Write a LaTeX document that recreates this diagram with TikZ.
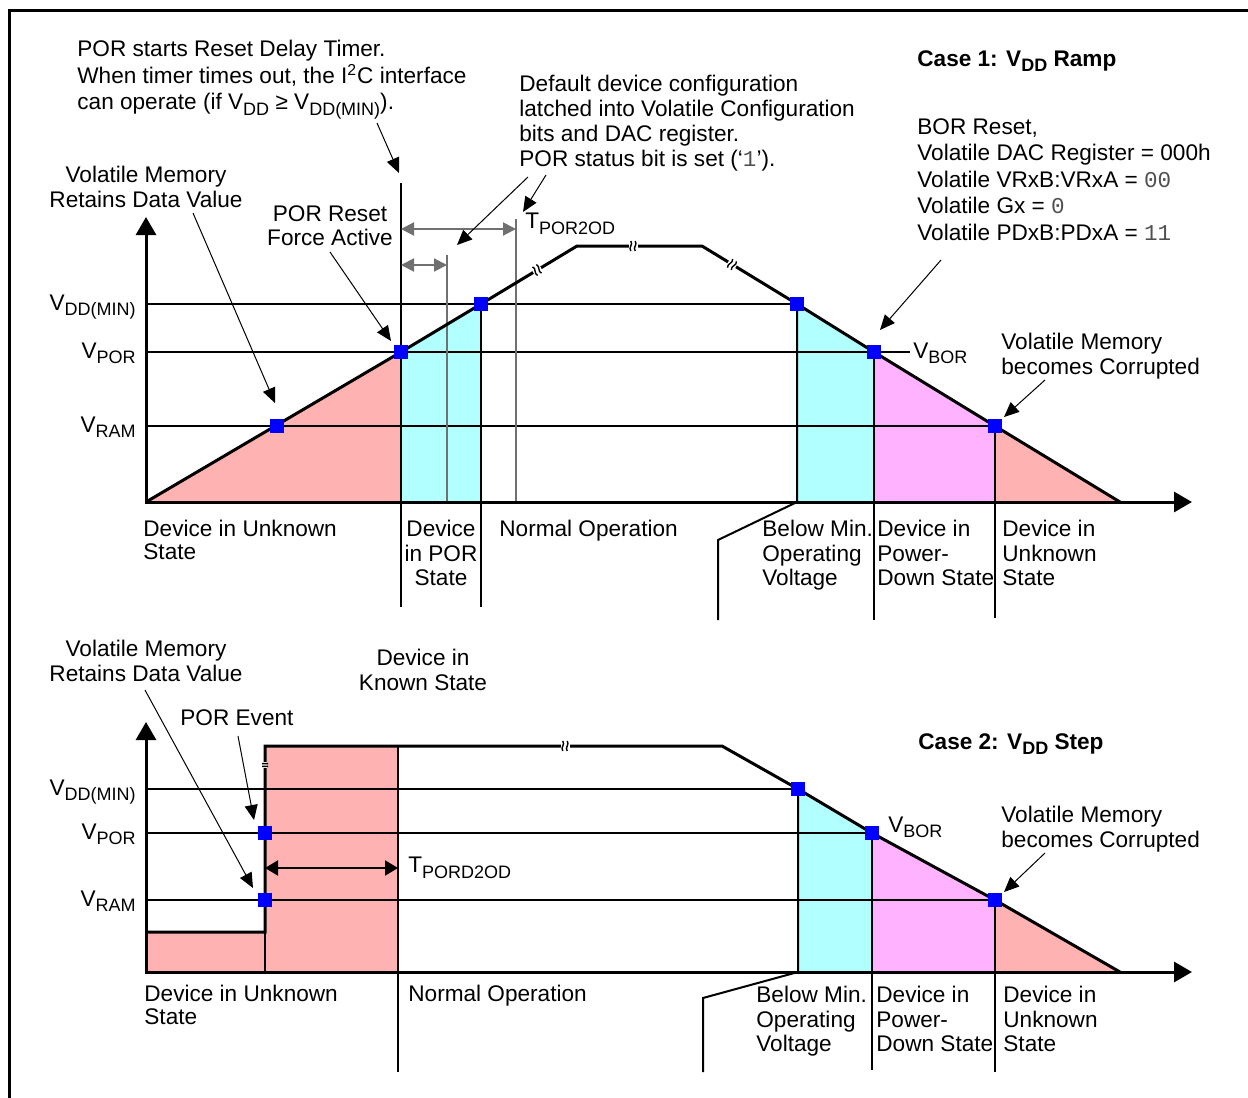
\documentclass[tikz,border=0pt]{standalone}
\usepackage{fontspec}
\setmainfont{Liberation Sans}
\setmonofont{Liberation Mono}
\usetikzlibrary{arrows.meta}
\definecolor{unkred}{RGB}{255,178,178}
\definecolor{porcyan}{RGB}{178,255,255}
\definecolor{pdmag}{RGB}{255,178,255}
\definecolor{mkblue}{RGB}{0,0,255}
\definecolor{dimgrey}{RGB}{112,112,112}
\definecolor{monogrey}{RGB}{80,80,80}
\newcommand{\lsub}[1]{\raisebox{-0.45ex}{\fontsize{9}{9}\selectfont #1}}
\newcommand{\mono}[1]{{\ttfamily\color{monogrey}#1}}
\tikzset{
  txt/.style={inner sep=0pt,font=\fontsize{11.3}{12.2}\selectfont},
  note/.style={txt,align=left,anchor=north west},
  cnote/.style={txt,align=center,anchor=north},
  vlab/.style={txt,anchor=base east},
  axisarrow/.style={line width=1.5pt,line join=miter,
    {Triangle[length=9pt,width=10pt]}-{Triangle[length=9pt,width=10pt]}},
  vlevel/.style={line width=1pt},
  ramp/.style={line width=1.5pt,line join=miter},
  divider/.style={line width=1pt},
  guide/.style={dimgrey,line width=1pt},
  span/.style={dimgrey,line width=1pt,
    {Triangle[length=6.5pt,width=6.5pt]}-{Triangle[length=6.5pt,width=6.5pt]}},
  tspan/.style={line width=1pt,
    {Triangle[length=6.5pt,width=7.5pt]}-{Triangle[length=6.5pt,width=7.5pt]}},
  callarrow/.style={line width=0.5pt,-{Triangle[length=7.5pt,width=6.5pt]}},
  bluesq/.style={fill=mkblue,draw=none,minimum size=7pt,inner sep=0pt,outer sep=0pt},
  brk/.pic={
    \fill[white] (-4.5,-4) rectangle (4.5,4);
    \draw[line width=0.7pt] (-2.2,-5) .. controls (0.5,-1.5) and (-4.9,1.5) .. (-2.2,5);
    \draw[line width=0.7pt] (2.2,-5) .. controls (4.9,-1.5) and (-0.5,1.5) .. (2.2,5);
  }
}
\begin{document}
\begin{tikzpicture}[x=0.5pt,y=-0.5pt]
\useasboundingbox (0,0) rectangle (1248,1098);
\draw[line width=1.5pt] (9,1098) -- (9,10) -- (1248,10);

% Case 1
\coordinate (o1) at (146,502);
\coordinate (por1) at (401,352);
\coordinate (min1) at (481,304);
\coordinate (topl1) at (577,246);
\coordinate (topr1) at (702,246);
\coordinate (minr1) at (797,304);
\coordinate (bor1) at (874,352);
\coordinate (ramr1) at (995,426);
\coordinate (end1) at (1120,502);
\coordinate (ram1) at (277,426);

\fill[unkred] (o1) -- (por1) -- (por1 |- o1) -- cycle;
\fill[porcyan] (por1 |- o1) -- (por1) -- (min1) -- (min1 |- o1) -- cycle;
\fill[porcyan] (minr1 |- o1) -- (minr1) -- (bor1) -- (bor1 |- o1) -- cycle;
\fill[pdmag] (bor1 |- o1) -- (bor1) -- (ramr1) -- (ramr1 |- o1) -- cycle;
\fill[unkred] (ramr1 |- o1) -- (ramr1) -- (end1) -- cycle;

\draw[vlevel] (146,304) -- (minr1);
\draw[vlevel] (146,352) -- (910,352);
\draw[vlevel] (146,426) -- (ramr1);

\draw[divider] (401,183) -- (401,607);
\draw[divider] (min1) -- (481,607);
\draw[divider] (minr1) -- (minr1 |- o1) -- (718,540) -- (718,620);
\draw[divider] (bor1) -- (874,620);
\draw[divider] (ramr1) -- (995,618);
\draw[guide] (447,255) -- (447,502);
\draw[guide] (516,219) -- (516,502);
\draw[span] (401,229) -- (516,229);
\draw[span] (401,265) -- (447,265);

\draw[ramp] (o1) -- (por1) -- (min1) -- (topl1) -- (topr1) -- (minr1) -- (bor1) -- (ramr1) -- (end1);
\pic[rotate=31] at (537,270) {brk};
\pic at (633,246) {brk};
\pic[rotate=-31] at (732,264.5) {brk};
\draw[axisarrow] (146,217) -- (o1) -- (1192,502);

\node[bluesq] (sqram1) at (ram1) {};
\node[bluesq] (sqpor1) at (por1) {};
\node[bluesq] (sqmin1) at (min1) {};
\node[bluesq] (sqminr1) at (minr1) {};
\node[bluesq] (sqbor1) at (bor1) {};
\node[bluesq] (sqramr1) at (ramr1) {};

\node[note,font=\fontsize{11.3}{13.3}\selectfont] (timer) at (77,40)
  {POR starts Reset Delay Timer.\\When timer times out, the I\textsuperscript{2}C interface\\can operate (if V\lsub{DD} ≥ V\lsub{DD(MIN)}).};
\node[cnote] (retain1) at (146,166) {Volatile Memory\\Retains Data Value};
\node[cnote] (forceact) at (330,205) {POR Reset\\Force Active};
\node[note,font=\fontsize{11.3}{12.4}\selectfont] (defcfg) at (519,75)
  {Default device configuration\\latched into Volatile Configuration\\bits and DAC register.\\POR status bit is set (‘\mono{1}’).};
\node[note] (tpor) at (525,213) {T\lsub{POR2OD}};
\node[note,font=\bfseries\fontsize{11.3}{13}\selectfont] (case1) at (917,50) {Case 1: V\lsub{DD} Ramp};
\node[note,font=\fontsize{11.3}{13.3}\selectfont] (borinfo) at (917,118)
  {BOR Reset,\\Volatile DAC Register = 000h\\Volatile VRxB:VRxA = \mono{00}\\Volatile Gx = \mono{0}\\Volatile PDxB:PDxA = \mono{11}};
\node[vlab] (vddmin1) at (136,310) {V\lsub{DD(MIN)}};
\node[vlab] (vpor1) at (136,358) {V\lsub{POR}};
\node[vlab] (vram1) at (136,432) {V\lsub{RAM}};
\node[txt,anchor=base west] (vbor1) at (913,358) {V\lsub{BOR}};
\node[note] (corrupt1) at (1001,333) {Volatile Memory\\becomes Corrupted};
\node[note,font=\fontsize{11.3}{11.2}\selectfont] (unk1) at (143,520) {Device in Unknown\\State};
\node[cnote] (porstate) at (441,520) {Device\\in POR\\State};
\node[note] (normal1) at (499,520) {Normal Operation};
\node[note] (belowmin1) at (762,520) {Below Min.\\Operating\\Voltage};
\node[note] (pwrdn1) at (877,520) {Device in\\Power-\\Down State};
\node[note] (unkend1) at (1002,520) {Device in\\Unknown\\State};

\coordinate (tmrfrom) at (377,123);
\coordinate (tmrto) at (399,173);
\coordinate (ret1from) at (193,213);
\coordinate (ret1to) at (275,403);
\coordinate (forcefrom) at (330,252);
\coordinate (forceto) at (391,341);
\coordinate (cfgfrom) at (528,177);
\coordinate (cfgto) at (457,245);
\coordinate (podfrom) at (546,175);
\coordinate (podto) at (523,212);
\coordinate (borfrom) at (941,260);
\coordinate (borto) at (880,330);
\coordinate (cor1from) at (1045,380);
\coordinate (cor1to) at (1004,417);
\draw[callarrow] (tmrfrom) -- (tmrto);
\draw[callarrow] (ret1from) -- (ret1to);
\draw[callarrow] (forcefrom) -- (forceto);
\draw[callarrow] (cfgfrom) -- (cfgto);
\draw[callarrow] (podfrom) -- (podto);
\draw[callarrow] (borfrom) -- (borto);
\draw[callarrow] (cor1from) -- (cor1to);

% Case 2
\coordinate (o2) at (146,972);
\coordinate (low2) at (146,932);
\coordinate (step2) at (265,932);
\coordinate (stept2) at (265,746);
\coordinate (known2) at (398,746);
\coordinate (topr2) at (722,746);
\coordinate (min2) at (798,789);
\coordinate (bor2) at (872,833);
\coordinate (ramr2) at (995,900);
\coordinate (end2) at (1120,972);

\fill[unkred] (o2) rectangle (step2);
\fill[unkred] (step2 |- o2) rectangle (known2);
\fill[porcyan] (min2 |- o2) -- (min2) -- (bor2) -- (bor2 |- o2) -- cycle;
\fill[pdmag] (bor2 |- o2) -- (bor2) -- (ramr2) -- (ramr2 |- o2) -- cycle;
\fill[unkred] (ramr2 |- o2) -- (ramr2) -- (end2) -- cycle;

\draw[vlevel] (146,789) -- (min2);
\draw[vlevel] (146,833) -- (bor2);
\draw[vlevel] (146,900) -- (ramr2);

\draw[divider] (step2) -- (step2 |- o2);
\draw[divider] (known2) -- (398,1072);
\draw[divider] (min2) -- (min2 |- o2) -- (703,998) -- (703,1072);
\draw[divider] (bor2) -- (872,1070);
\draw[divider] (ramr2) -- (995,1072);
\draw[tspan] (265,868) -- (398,868);

\draw[ramp] (low2) -- (step2) -- (stept2) -- (topr2) -- (min2) -- (bor2) -- (ramr2) -- (end2);
\pic at (565,746) {brk};
\pic[rotate=90,scale=0.6] at (265,765) {brk};
\draw[axisarrow] (146,722) -- (o2) -- (1192,972);

\node[bluesq] (sqpor2) at (265,833) {};
\node[bluesq] (sqram2) at (265,900) {};
\node[bluesq] (sqmin2) at (min2) {};
\node[bluesq] (sqbor2) at (bor2) {};
\node[bluesq] (sqramr2) at (ramr2) {};

\node[cnote] (retain2) at (146,640) {Volatile Memory\\Retains Data Value};
\node[cnote] (known) at (423,649) {Device in\\Known State};
\node[note] (porevent) at (180,709) {POR Event};
\node[note,font=\bfseries\fontsize{11.3}{13}\selectfont] (case2) at (918,733) {Case 2: V\lsub{DD} Step};
\node[note] (tpord) at (408,857) {T\lsub{PORD2OD}};
\node[vlab] (vddmin2) at (136,795) {V\lsub{DD(MIN)}};
\node[vlab] (vpor2) at (136,839) {V\lsub{POR}};
\node[vlab] (vram2) at (136,906) {V\lsub{RAM}};
\node[txt,anchor=base west] (vbor2) at (888,832) {V\lsub{BOR}};
\node[note] (corrupt2) at (1001,806) {Volatile Memory\\becomes Corrupted};
\node[note,font=\fontsize{11.3}{11.2}\selectfont] (unk2) at (144,985) {Device in Unknown\\State};
\node[note] (normal2) at (408,985) {Normal Operation};
\node[note] (belowmin2) at (756,986) {Below Min.\\Operating\\Voltage};
\node[note] (pwrdn2) at (876,986) {Device in\\Power-\\Down State};
\node[note] (unkend2) at (1003,986) {Device in\\Unknown\\State};

\coordinate (ret2from) at (145,690);
\coordinate (ret2to) at (253,888);
\coordinate (evtfrom) at (238,736);
\coordinate (evtto) at (254,820);
\coordinate (cor2from) at (1045,853);
\coordinate (cor2to) at (1004,892);
\draw[callarrow] (ret2from) -- (ret2to);
\draw[callarrow] (evtfrom) -- (evtto);
\draw[callarrow] (cor2from) -- (cor2to);
\end{tikzpicture}
\end{document}
